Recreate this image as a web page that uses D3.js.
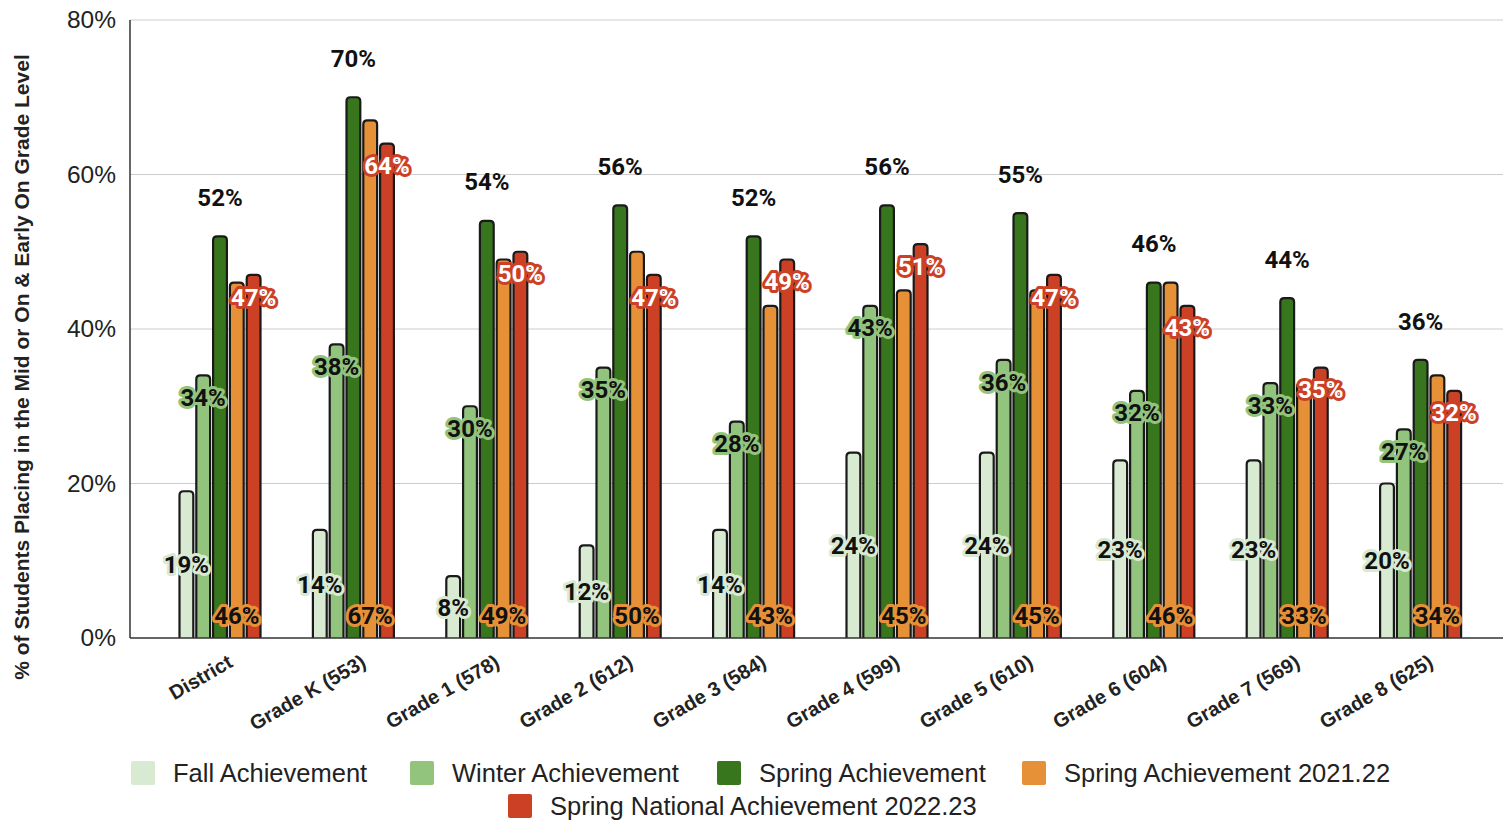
<!DOCTYPE html>
<head><style>body { margin: 0; background: #fff; } svg { display: block; }</style></head>
<body>
    <div class="container"></div>
    <script src="https://d3js.org/d3.v7.min.js"></script>
    <script>
        var categories = ['District', 'Grade K (553)', 'Grade 1 (578)', 'Grade 2 (612)', 'Grade 3 (584)',
                          'Grade 4 (599)', 'Grade 5 (610)', 'Grade 6 (604)', 'Grade 7 (569)', 'Grade 8 (625)'];
        var seriesNames = ['Fall Achievement', 'Winter Achievement', 'Spring Achievement',
                           'Spring Achievement 2021.22', 'Spring National Achievement 2022.23'];
        var fall     = [19, 14, 8, 12, 14, 24, 24, 23, 23, 20];
        var winter   = [34, 38, 30, 35, 28, 43, 36, 32, 33, 27];
        var spring   = [52, 70, 54, 56, 52, 56, 55, 46, 44, 36];
        var spring21 = [46, 67, 49, 50, 43, 45, 45, 46, 33, 34];
        var national = [47, 64, 50, 47, 49, 51, 47, 43, 35, 32];
        var yTicks = [0, 20, 40, 60, 80];
        var colors = ['#d9ead3', '#93c47d', '#38761d', '#e69138', '#cc4125'];

        var series = [fall, winter, spring, spring21, national];

        var W = 1503, H = 820;
        var svg = d3.select('.container').append('svg')
                    .attr('width', W).attr('height', H);

        var x = d3.scaleBand().domain(categories).range([153.3, 1487.3]).padding(0);
        var inner = d3.scaleBand().domain(d3.range(5)).range([-42, 42]).padding(0);
        var y = d3.scaleLinear().domain([0, 80]).range([638, 20]);

        // gridlines
        svg.append('g').selectAll('line').data(yTicks.slice(1)).join('line')
           .attr('x1', 130).attr('x2', W).attr('y1', d => y(d)).attr('y2', d => y(d))
           .attr('stroke', '#ccc').attr('stroke-width', 1);

        // y axis labels
        svg.append('g').selectAll('text').data(yTicks).join('text')
           .attr('x', 116).attr('y', d => y(d) + 8)
           .attr('text-anchor', 'end')
           .style('font', '24.5px "Liberation Sans", Arial, sans-serif').style('fill', '#222')
           .text(d => d + '%');

        svg.append('text')
           .attr('transform', 'translate(29,367) rotate(-90)')
           .attr('text-anchor', 'middle')
           .style('font', 'bold 21px "Liberation Sans", Arial, sans-serif').style('fill', '#222')
           .text('% of Students Placing in the Mid or On & Early On Grade Level');

        // bars
        function barPath(x0, w, yTop, yBase) {
            var r = Math.min(4, (yBase - yTop));
            return 'M' + x0 + ',' + yBase +
                   'V' + (yTop + r) +
                   'Q' + x0 + ',' + yTop + ' ' + (x0 + r) + ',' + yTop +
                   'H' + (x0 + w - r) +
                   'Q' + (x0 + w) + ',' + yTop + ' ' + (x0 + w) + ',' + (yTop + r) +
                   'V' + yBase;
        }
        var bw = inner.bandwidth() - 3;
        var groups = svg.append('g').selectAll('g').data(categories).join('g')
                        .attr('transform', d => 'translate(' + (x(d) + x.bandwidth() / 2) + ',0)');

        groups.each(function (cat, ci) {
            var g = d3.select(this);
            series.forEach(function (s, si) {
                var bx = inner(si) + 1.5;
                g.append('path')
                 .attr('d', barPath(bx, bw, y(s[ci]), y(0)))
                 .attr('fill', colors[si])
                 .attr('stroke', '#1a1a1a').attr('stroke-width', 2.2);
            });
        });

        // axis lines
        svg.append('line').attr('x1', 130).attr('x2', W).attr('y1', y(0)).attr('y2', y(0))
           .attr('stroke', '#333').attr('stroke-width', 1.5);
        svg.append('line').attr('x1', 130).attr('x2', 130).attr('y1', y(80)).attr('y2', y(0))
           .attr('stroke', '#333').attr('stroke-width', 1.5);

        // data labels
        function label(g, tx, ty, txt, fill, halo) {
            var t = g.append('text').attr('x', tx).attr('y', ty)
                     .attr('text-anchor', 'middle').attr('dy', '0.36em')
                     .style('font', 'bold 24px Roboto, "Liberation Sans", sans-serif')
                     .text(txt);
            if (halo) {
                t.style('fill', fill).style('stroke', halo).style('stroke-width', 6)
                 .style('stroke-linejoin', 'round').style('paint-order', 'stroke');
            } else {
                t.style('fill', fill);
            }
        }
        groups.each(function (cat, ci) {
            var g = d3.select(this);
            var c = i => inner(i) + inner.bandwidth() / 2;
            label(g, c(0), (y(fall[ci]) + y(0)) / 2, fall[ci] + '%', '#111', colors[0]);
            label(g, c(1), y(winter[ci]) + 22, winter[ci] + '%', '#111', colors[1]);
            label(g, c(2), y(spring[ci]) - 39, spring[ci] + '%', '#111', null);
            label(g, c(3), y(0) - 23, spring21[ci] + '%', '#111', colors[3]);
            label(g, c(4), y(national[ci]) + 22, national[ci] + '%', '#fff', colors[4]);
        });

        // x labels
        svg.append('g').selectAll('text').data(categories).join('text')
           .attr('transform', d => 'translate(' + (x(d) + x.bandwidth() / 2 + 14) + ',666) rotate(-30)')
           .attr('text-anchor', 'end')
           .style('font', 'bold 20px "Liberation Sans", Arial, sans-serif').style('fill', '#222')
           .text(d => d);

        // legend
        var legendPos = [[131, 773], [410, 773], [717, 773], [1022, 773], [508, 806]];
        var leg = svg.append('g').selectAll('g').data(seriesNames).join('g')
                     .attr('transform', (d, i) => 'translate(' + legendPos[i][0] + ',' + legendPos[i][1] + ')');
        leg.append('rect').attr('x', 0).attr('y', -12).attr('width', 24).attr('height', 24)
           .attr('rx', 2).attr('fill', (d, i) => colors[i]);
        leg.append('text').attr('x', 42).attr('y', 9)
           .style('font', '25.5px "Liberation Sans", Arial, sans-serif').style('fill', '#222')
           .text(d => d);
    </script>
</body>
